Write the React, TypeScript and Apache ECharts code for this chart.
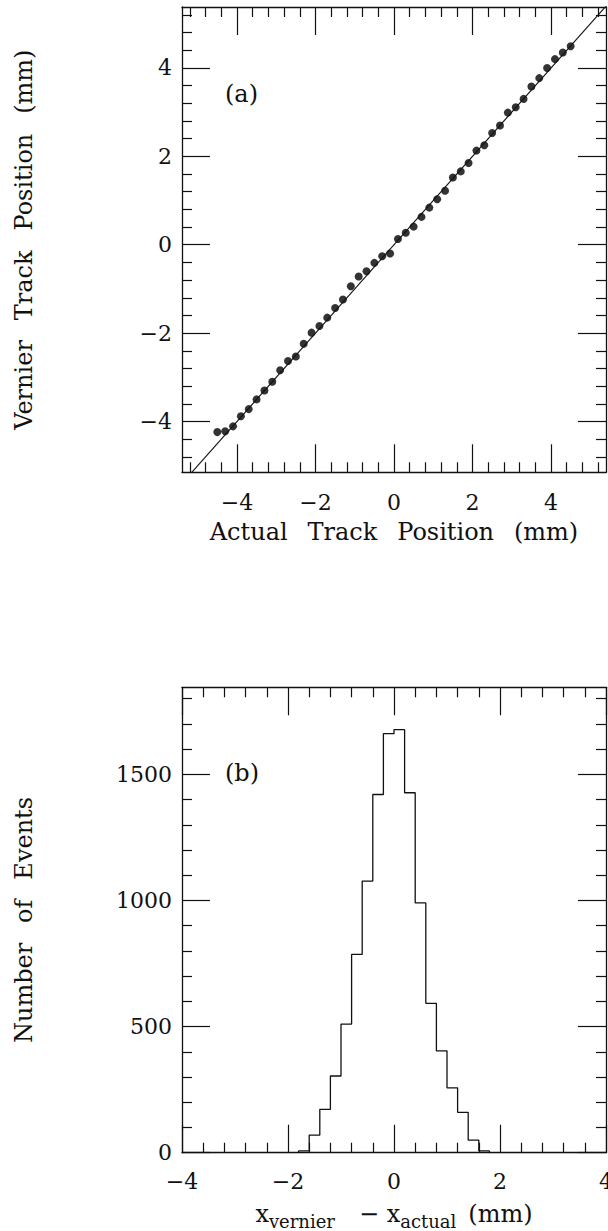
import React, { useEffect, useRef } from "react";
import * as echarts from "echarts";

// ---------- Panel (a): vernier vs actual track position ----------
const scatterX = [
  -4.5, -4.3, -4.1, -3.9, -3.7, -3.5, -3.3, -3.1, -2.9, -2.7, -2.5, -2.3,
  -2.1, -1.9, -1.7, -1.5, -1.3, -1.1, -0.9, -0.7, -0.5, -0.3, -0.1, 0.1,
  0.3, 0.5, 0.7, 0.9, 1.1, 1.3, 1.5, 1.7, 1.9, 2.1, 2.3, 2.5, 2.7, 2.9,
  3.1, 3.3, 3.5, 3.7, 3.9, 4.1, 4.3, 4.5,
];
const scatterY = [
  -4.24, -4.22, -4.11, -3.88, -3.72, -3.5, -3.3, -3.1, -2.84, -2.63, -2.53,
  -2.24, -1.99, -1.84, -1.65, -1.43, -1.24, -0.94, -0.72, -0.6, -0.41, -0.26,
  -0.2, 0.13, 0.27, 0.41, 0.63, 0.84, 1.03, 1.22, 1.52, 1.66, 1.85, 2.13,
  2.25, 2.53, 2.7, 2.99, 3.11, 3.3, 3.58, 3.77, 4.0, 4.2, 4.35, 4.49,
];
const fitLineX = [-5.4, 5.4];
const fitLineY = [-5.4, 5.4];

const aMajorTicks = [-4, -2, 0, 2, 4];

// ---------- Panel (b): histogram of residuals ----------
const binEdges = [
  -4.0, -3.8, -3.6, -3.4, -3.2, -3.0, -2.8, -2.6, -2.4, -2.2, -2.0, -1.8,
  -1.6, -1.4, -1.2, -1.0, -0.8, -0.6, -0.4, -0.2, 0.0, 0.2, 0.4, 0.6, 0.8,
  1.0, 1.2, 1.4, 1.6, 1.8, 2.0, 2.2, 2.4, 2.6, 2.8, 3.0, 3.2, 3.4, 3.6, 3.8,
  4.0,
];
const binCounts = [
  0, 0, 0, 0, 0, 0, 0, 0, 0, 0, 0, 7, 70, 172, 304, 510, 786, 1077, 1420,
  1661, 1677, 1427, 990, 592, 404, 257, 160, 50, 7, 0, 0, 0, 0, 0, 0, 0, 0,
  0, 0, 0,
];
const bXTicks = [-4, -2, 0, 2, 4];
const bYTicks = [0, 500, 1000, 1500];

const FONT = "DejaVu Serif";
const INK = "#111";
const WS = "\u2002\u2004"; // wide word space, as in the original typesetting

function minorList(from: number, to: number, step: number, majors: number[]) {
  const out: number[] = [];
  const n = Math.round((to - from) / step);
  for (let i = 0; i <= n; i++) {
    const v = Math.round((from + i * step) * 1000) / 1000;
    if (!majors.some((m) => Math.abs(m - v) < 1e-6)) out.push(v);
  }
  return out;
}

const fmt = (v: number) => String(v).replace("-", "\u2212");

function axisPair(
  dim: "x" | "y",
  gridIndex: number,
  min: number,
  max: number,
  majors: number[],
  minors: number[],
  labelMargin: number,
  extra: any
) {
  const positions = dim === "x" ? ["bottom", "top"] : ["left", "right"];
  const out: any[] = [];
  positions.forEach((pos, k) => {
    const base = {
      type: "value",
      gridIndex,
      position: pos,
      min,
      max,
      splitLine: { show: false },
      minorTick: { show: false },
      minorSplitLine: { show: false },
      nameMoveOverlap: false,
    };
    out.push({
      ...base,
      axisLine: { show: true, onZero: false, lineStyle: { color: INK, width: 1.3 } },
      axisTick: {
        show: true,
        inside: true,
        length: 28,
        customValues: majors,
        lineStyle: { color: INK, width: 1.2 },
      },
      axisLabel: {
        show: k === 0,
        customValues: majors,
        formatter: fmt,
        fontFamily: FONT,
        fontSize: 22,
        color: INK,
        margin: labelMargin,
        showMinLabel: true,
        showMaxLabel: true,
      },
      ...(k === 0 ? extra : {}),
    });
    out.push({
      ...base,
      axisLine: { show: false, onZero: false },
      axisTick: {
        show: true,
        inside: true,
        length: 10,
        customValues: minors,
        lineStyle: { color: INK, width: 1.2 },
      },
      axisLabel: { show: false },
    });
  });
  return out;
}

export default function App() {
  const ref = useRef<HTMLDivElement>(null);

  useEffect(() => {
    if (!ref.current) return;
    const chart = echarts.init(ref.current, null, { renderer: "svg" });

    const aXMinor = minorList(-5.2, 5.2, 0.4, aMajorTicks);
    const aYMinor = minorList(-4.8, 5.2, 0.4, aMajorTicks);
    const bXMinor = minorList(-3.6, 3.6, 0.4, bXTicks);
    const bYMinor = minorList(100, 1800, 100, bYTicks);

    const nameStyle = { fontFamily: FONT, fontSize: 24, color: INK };

    const xAxes = [
      ...axisPair("x", 0, -5.4, 5.4, aMajorTicks, aXMinor, 19, {
        name: ["Actual", "Track", "Position", "(mm)"].join(WS),
        nameLocation: "middle",
        nameGap: 48,
        nameTextStyle: nameStyle,
      }),
      ...axisPair("x", 1, -4, 4, bXTicks, bXMinor, 18, {
        name: "{m|x}{s|vernier}{m|\u2003\u2212 x}{s|actual}{m|\u2002(mm)}",
        nameLocation: "middle",
        nameGap: 44,
        nameTextStyle: {
          ...nameStyle,
          rich: {
            m: { fontFamily: FONT, fontSize: 24, color: INK, lineHeight: 26 },
            s: {
              fontFamily: FONT,
              fontSize: 18,
              color: INK,
              lineHeight: 34,
              verticalAlign: "bottom",
            },
          },
        },
      }),
    ];
    const yAxes = [
      ...axisPair("y", 0, -5.15, 5.38, aMajorTicks, aYMinor, 10, {
        name: ["Vernier", "Track", "Position", "(mm)"].join(WS),
        nameLocation: "middle",
        nameRotate: 90,
        nameGap: 146,
        nameTextStyle: nameStyle,
      }),
      ...axisPair("y", 1, 0, 1845, bYTicks, bYMinor, 10, {
        name: ["Number", "of", "Events"].join(WS),
        nameLocation: "middle",
        nameRotate: 90,
        nameGap: 146,
        nameTextStyle: nameStyle,
      }),
    ];

    const histData: number[][] = binEdges.map((e, i) => [
      e,
      i < binCounts.length ? binCounts[i] : 0,
    ]);

    chart.setOption({
      animation: false,
      backgroundColor: "#fff",
      grid: [
        { left: 182, top: 7, width: 424, height: 465.3, outerBoundsMode: "none", containLabel: false },
        { left: 182, top: 687.3, width: 424, height: 465.4, outerBoundsMode: "none", containLabel: false },
      ],
      xAxis: xAxes,
      yAxis: yAxes,
      graphic: [
        {
          type: "text",
          left: 225,
          top: 82,
          style: { text: "(a)", fontFamily: FONT, fontSize: 24, fill: INK },
        },
        {
          type: "text",
          left: 225,
          top: 761,
          style: { text: "(b)", fontFamily: FONT, fontSize: 24, fill: INK },
        },
      ],
      series: [
        {
          type: "line",
          xAxisIndex: 0,
          yAxisIndex: 0,
          data: fitLineX.map((x, i) => [x, fitLineY[i]]),
          showSymbol: false,
          clip: true,
          lineStyle: { color: INK, width: 1.1 },
          silent: true,
        },
        {
          type: "scatter",
          xAxisIndex: 0,
          yAxisIndex: 0,
          data: scatterX.map((x, i) => [x, scatterY[i]]),
          symbol: "circle",
          symbolSize: 8,
          itemStyle: { color: "#000" },
        },
        {
          type: "line",
          xAxisIndex: 4,
          yAxisIndex: 4,
          step: "end",
          data: histData,
          showSymbol: false,
          clip: true,
          lineStyle: { color: INK, width: 1.3 },
        },
      ],
    });
    return () => chart.dispose();
  }, []);

  return (
    <div
      ref={ref}
      style={{ position: "absolute", left: 0, top: 0, width: 608, height: 1231, background: "#fff" }}
    />
  );
}
